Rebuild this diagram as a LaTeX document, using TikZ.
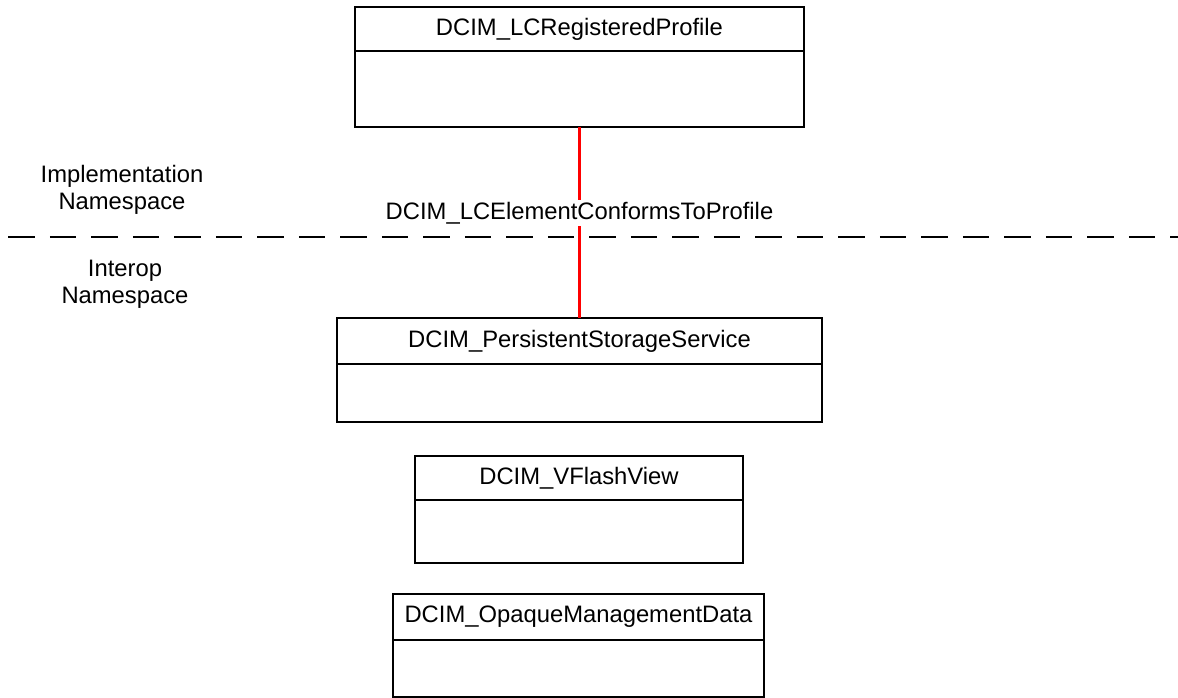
\documentclass[tikz,border=0pt]{standalone}
\usepackage{fontspec}
\setmainfont{Liberation Sans}
\usetikzlibrary{positioning}

\begin{document}
\begin{tikzpicture}[
    x=1pt, y=-1pt,
    font=\fontsize{23.8}{27}\selectfont,
    classhead/.style={draw, line width=2.6pt, outer sep=0pt, inner sep=0pt,
                      minimum height=44pt},
    classbody/.style={draw, line width=2.6pt, outer sep=0pt, inner sep=0pt},
    nsname/.style={align=center},
    assoc/.style={draw=red, line width=2.6pt},
  ]
  \useasboundingbox (0,0) rectangle (1178,698);

  % namespace separator
  \coordinate (sepL) at (8.3,237);
  \coordinate (sepR) at (1178,237);
  \draw[line width=1.7pt, dash pattern=on 26.5pt off 15pt] (sepL) -- (sepR);
  \node[nsname] (implns) at (122,190) {Implementation\\Namespace};
  \node[nsname] (interns) at (125,284) {Interop\\Namespace};

  % classes
  \node[classhead, minimum width=449pt] (prof) at (579.5,29) {DCIM\_LCRegisteredProfile};
  \node[classbody, minimum width=449pt, minimum height=76pt, below=0pt of prof] (profB) {};

  \node[classhead, minimum width=485pt, minimum height=46pt] (pss) at (579.5,341) {DCIM\_PersistentStorageService};
  \node[classbody, minimum width=485pt, minimum height=58pt, below=0pt of pss] (pssB) {};

  \node[classhead, minimum width=328pt] (vflash) at (579,478) {DCIM\_VFlashView};
  \node[classbody, minimum width=328pt, minimum height=63pt, below=0pt of vflash] (vflashB) {};

  \node[classhead, minimum width=371pt, minimum height=46pt] (opaque) at (578.5,617) {DCIM\_OpaqueManagementData};
  \node[classbody, minimum width=371pt, minimum height=57pt, below=0pt of opaque] (opaqueB) {};

  % association
  \draw[assoc] (profB.south) -- node[fill=white, inner sep=2pt, pos=0.45] (confl)
    {DCIM\_LCElementConformsToProfile} (pss.north);
\end{tikzpicture}
\end{document}
